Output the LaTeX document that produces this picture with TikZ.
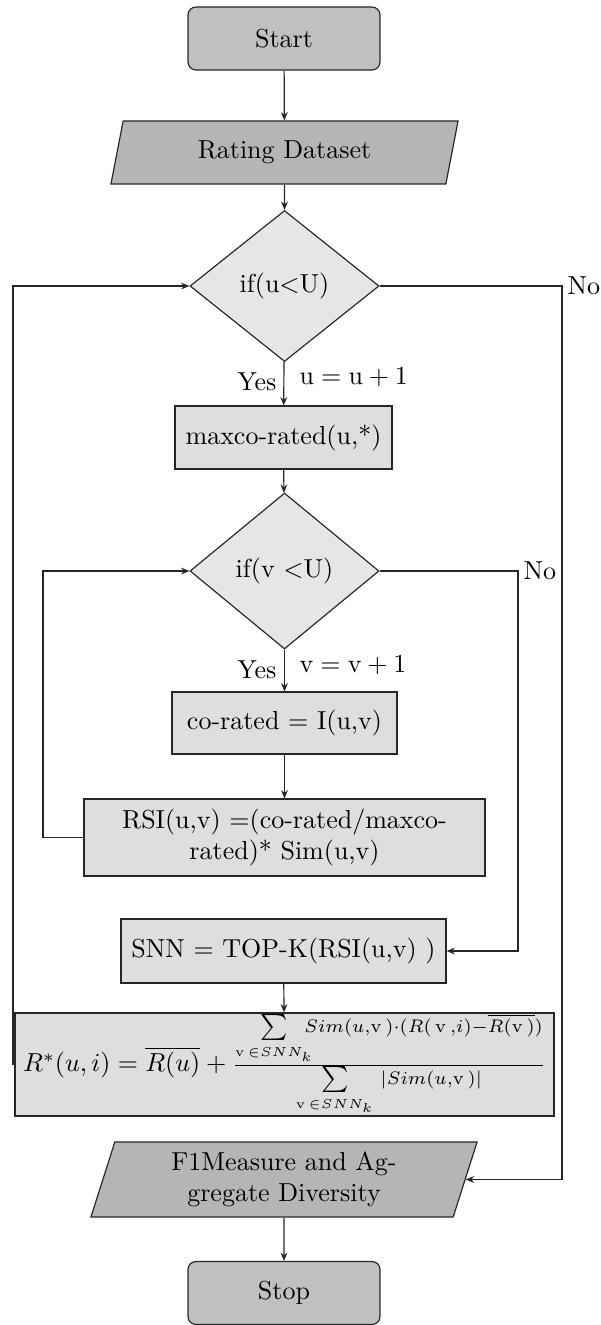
\documentclass[tikz,border=0pt]{standalone}
\usetikzlibrary{shapes.geometric,arrows.meta}
\definecolor{termfill}{RGB}{192,192,192}
\definecolor{iofill}{RGB}{181,181,181}
\definecolor{decfill}{RGB}{230,230,230}
\definecolor{procfill}{RGB}{222,222,222}
\begin{document}
\begin{tikzpicture}[x=0.3846pt,y=-0.3846pt,
  base/.style={draw=black!85, line width=0.45pt, align=center, inner sep=2pt},
  term/.style={base, fill=termfill, rounded corners=3pt,
    minimum width=73.8pt, minimum height=24.2pt},
  io/.style={base, fill=iofill, trapezium, trapezium left angle=70,
    trapezium right angle=110, trapezium stretches body=true},
  decision/.style={base, fill=decfill, diamond, inner sep=0pt,
    minimum width=72.7pt},
  proc/.style={base, fill=procfill},
  arr/.style={draw=black!85, line width=0.45pt,
    -{Stealth[length=3.2pt,width=2.6pt]}},
  lbl/.style={inner sep=0pt}]
\useasboundingbox (0,0) rectangle (600,1325);

% nodes
\node[term] (start) at (284,38.5) {Start};
\node[io, minimum width=133.5pt, minimum height=24.2pt] (data) at (284.5,152.5) {Rating Dataset};
\node[decision, minimum height=58.1pt] (ifu) at (284.5,286) {if(u$<$U)};
\node[proc, minimum width=83.5pt, minimum height=24.2pt] (maxco) at (283.5,437.5) {maxco-rated(u,*)};
\node[decision, minimum height=60pt] (ifv) at (284.5,571) {if(v $<$U)};
\node[proc, minimum width=86.5pt, minimum height=23.8pt] (corated) at (284.5,723) {co-rated $=$ I(u,v)};
\node[proc, minimum width=154.2pt, minimum height=29.6pt] (rsi) at (284.5,837.5)
  {RSI(u,v) $=$(co-rated/maxco-\\rated)* Sim(u,v)};
\node[proc, minimum width=125pt, minimum height=24.6pt] (snn) at (283.5,951) {SNN $=$ TOP-K(RSI(u,v) )};
\node[proc, inner sep=0pt, minimum width=207.3pt, minimum height=39.6pt] (rstar) at (284.5,1064.5)
  {$R^*(u,i)=\overline{R(u)}+\frac{\sum\limits_{\mathrm{v}\,\in SNN_k}\mkern-10mu Sim(u,\mathrm{v}\,)\cdot(R(\,\mathrm{v}\,,i)-\overline{R(\mathrm{v}\,)})}{\sum\limits_{\mathrm{v}\,\in SNN_k}\,|Sim(u,\mathrm{v}\,)|}$};
\node[io, minimum width=148.5pt, minimum height=28.8pt] (f1) at (284,1179.5)
  {F1Measure and Ag-\\gregate Diversity};
\node[term] (stop) at (284,1293) {Stop};

% bends of the loop and exit lines
\coordinate (r1) at (562,286);
\coordinate (r2) at (518,571);
\coordinate (l1) at (13,1064.5);
\coordinate (l2) at (43,837.5);

% main flow
\draw[arr] (start) -- (data);
\draw[arr] (data) -- (ifu);
\draw[arr] (ifu) -- (maxco);
\draw[arr] (maxco) -- (ifv);
\draw[arr] (ifv) -- (corated);
\draw[arr] (corated) -- (rsi);
\draw[arr] (snn) -- (rstar);
\draw[arr] (f1) -- (stop);

% branch labels
\node[lbl, anchor=east] (yes1) at (277,382) {Yes};
\node[lbl, anchor=west] (inc1) at (299,377) {$\mathrm{u}=\mathrm{u}+1$};
\node[lbl, anchor=east] (yes2) at (277,670) {Yes};
\node[lbl, anchor=west] (inc2) at (299,665) {$\mathrm{v}=\mathrm{v}+1$};

% exits on "No"
\draw[arr] (ifu.east) -- (r1) |- (f1);
\node[lbl, anchor=west] (no1) at (567,286) {No};
\draw[arr] (ifv.east) -- (r2) |- (snn);
\node[lbl, anchor=west] (no2) at (523,571) {No};

% loops back
\draw[arr] (rsi.west) -- (l2) |- (ifv.west);
\draw[arr] (rstar.west) -- (l1) |- (ifu.west);
\end{tikzpicture}
\end{document}
